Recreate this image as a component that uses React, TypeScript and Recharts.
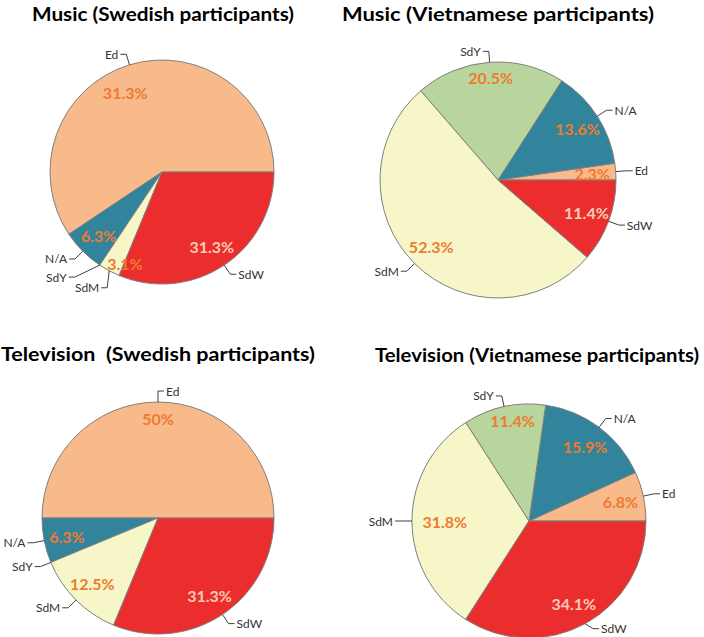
import { PieChart, Pie, Cell } from "recharts";

const categories = ["Ed", "N/A", "SdY", "SdM", "SdW"];
const colors = ["#F8B98B", "#31849B", "#B7D59C", "#F6F6C9", "#EC2D2E"];

// slice sizes as drawn (participant counts), printed labels kept as text
const musicSwedish = [19, 2, 0, 1, 10];
const musicSwedishPct = ["31.3%", "6.3%", "", "3.1%", "31.3%"];
const musicVietnamese = [1, 6, 9, 23, 5];
const musicVietnamesePct = ["2.3%", "13.6%", "20.5%", "52.3%", "11.4%"];
const tvSwedish = [16, 2, 0, 4, 10];
const tvSwedishPct = ["50%", "6.3%", "", "12.5%", "31.3%"];
const tvVietnamese = [3, 7, 5, 14, 15];
const tvVietnamesePct = ["6.8%", "15.9%", "11.4%", "31.8%", "34.1%"];

const titles = [
  "Music (Swedish participants)",
  "Music (Vietnamese participants)",
  "Television  (Swedish participants)",
  "Television (Vietnamese participants)",
];

const RAD = Math.PI / 180;

function toRows(values: number[], pct: string[]) {
  return categories.map((name, i) => ({ name, value: values[i], pct: pct[i] }));
}

const pies = [
  { rows: toRows(musicSwedish, musicSwedishPct), cx: 162, cy: 172, r: 112 },
  { rows: toRows(musicVietnamese, musicVietnamesePct), cx: 498, cy: 180, r: 118 },
  { rows: toRows(tvSwedish, tvSwedishPct), cx: 158, cy: 518, r: 116 },
  { rows: toRows(tvVietnamese, tvVietnamesePct), cx: 529, cy: 521, r: 117 },
];

const titlePos = [
  { x: 32, y: 21, w: 262 },
  { x: 342, y: 21, w: 312 },
  { x: 1, y: 361, w: 314 },
  { x: 375, y: 362, w: 324 },
];

// label placement tweaks (pr: pct radius factor, pa: pct angle shift, elbow: leader elbow offset from edge)
type Tweak = { pr?: number; pa?: number; elbow?: [number, number] };
const tweaks: Record<string, Tweak> = {
  "0-Ed": { pr: 0.78, pa: 8 },
  "0-SdY": { elbow: [-25, 12] },
  "0-SdM": { pr: 0.88, pa: 6, elbow: [-2, 17] },
  "1-SdY": { pr: 0.87 },
  "2-Ed": { pr: 0.86 },
  "3-SdY": { pr: 0.87, pa: -3 },
  "3-SdM": { pr: 0.72 },
  "3-SdW": { elbow: [8, 5] },
};

function makeLabel(chart: number) {
  return (props: any) => {
    const { cx, cy, midAngle, outerRadius, payload, index } = props;
    const tw = tweaks[`${chart}-${payload.name}`] || {};
    const cos = Math.cos(-midAngle * RAD);
    const sin = Math.sin(-midAngle * RAD);
    const pa = -(midAngle + (tw.pa || 0)) * RAD;
    const pr = outerRadius * (tw.pr || 0.8);
    const px = cx + pr * Math.cos(pa);
    const py = cy + pr * Math.sin(pa);
    const ex = cx + outerRadius * cos;
    const ey = cy + outerRadius * sin;
    const lx = tw.elbow ? ex + tw.elbow[0] : cx + (outerRadius + 11) * cos;
    const ly = tw.elbow ? ey + tw.elbow[1] : cy + (outerRadius + 11) * sin;
    const right = cos >= 0;
    const hx = lx + (right ? 6 : -6);
    const pctColor = payload.name === "SdW" ? "#F9CBB6" : "#EE7B2F";
    return (
      <g key={`lbl-${index}`}>
        <polyline
          points={`${ex},${ey} ${lx},${ly} ${hx},${ly}`}
          fill="none"
          stroke="#404040"
          strokeWidth={1}
        />
        <text
          x={hx + (right ? 2 : -2)}
          y={ly}
          textAnchor={right ? "start" : "end"}
          dominantBaseline="central"
          fontFamily="Lato, 'Open Sans', sans-serif"
          fontSize={12}
          fill="#333"
        >
          {payload.name}
        </text>
        {payload.pct && (
          <text
            x={px}
            y={py}
            textAnchor="middle"
            dominantBaseline="central"
            fontFamily="Lato, 'Open Sans', sans-serif"
            fontWeight="bold"
            fontSize={16}
            fill={pctColor}
          >
            {payload.pct}
          </text>
        )}
      </g>
    );
  };
}

export default function App() {
  return (
    <div style={{ position: "absolute", left: 0, top: 0, width: 704, height: 637, background: "#fff" }}>
      <PieChart width={704} height={637} margin={{ top: 0, right: 0, bottom: 0, left: 0 }}>
        {pies.map((p, k) => (
          <Pie
            key={k}
            data={p.rows}
            dataKey="value"
            nameKey="name"
            cx={p.cx}
            cy={p.cy}
            outerRadius={p.r}
            startAngle={0}
            endAngle={360}
            stroke="#7F7F7F"
            strokeWidth={1}
            label={makeLabel(k)}
            labelLine={false}
            isAnimationActive={false}
          >
            {p.rows.map((row, i) => (
              <Cell key={row.name} fill={colors[i]} />
            ))}
          </Pie>
        ))}
      </PieChart>
      <svg width={704} height={637} style={{ position: "absolute", left: 0, top: 0, pointerEvents: "none" }}>
        {titles.map((t, i) => (
          <text
            key={t}
            x={titlePos[i].x}
            y={titlePos[i].y}
            textLength={titlePos[i].w}
            lengthAdjust="spacingAndGlyphs"
            fontFamily="Lato, 'Open Sans', sans-serif"
            fontWeight="bold"
            fontSize={19}
            fill="#000"
            xmlSpace="preserve"
          >
            {t}
          </text>
        ))}
      </svg>
    </div>
  );
}
